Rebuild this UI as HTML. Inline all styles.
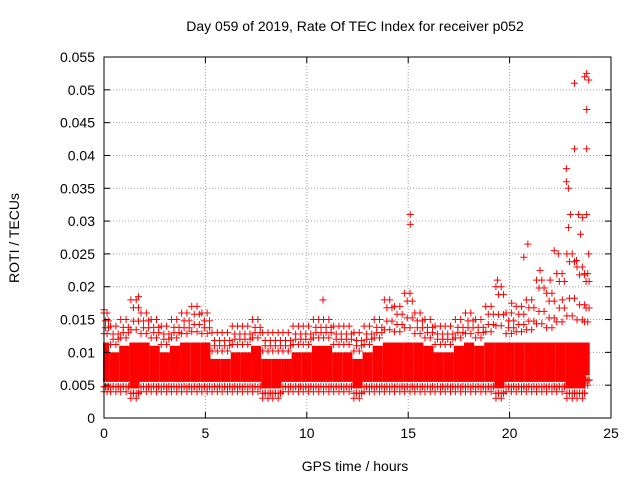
<!DOCTYPE html>
<html><head><meta charset="utf-8"><style>
body{margin:0;background:#fff;width:640px;height:480px;overflow:hidden;font-family:"Liberation Sans",sans-serif}
</style></head><body>
<svg id="chart" width="640" height="480" xmlns="http://www.w3.org/2000/svg" font-family="Liberation Sans, sans-serif" font-size="14">
<text x="355" y="31" text-anchor="middle" font-size="14">Day 059 of 2019, Rate Of TEC Index for receiver p052</text>
<text x="355" y="471" text-anchor="middle">GPS time / hours</text>
<text transform="translate(19,238) rotate(-90)" text-anchor="middle">ROTI / TECUs</text>
<g id="grid"></g><g id="marks"></g><g id="axes"></g>
</svg>
<script>
const xTicks=[0,5,10,15,20,25];
const yTicks=[0,0.005,0.01,0.015,0.02,0.025,0.03,0.035,0.04,0.045,0.05,0.055];
const yTickLabels=["0","0.005","0.01","0.015","0.02","0.025","0.03","0.035","0.04","0.045","0.05","0.055"];
const binHours=[0.1,0.5,1,1.5,2,2.5,3,3.5,4,4.5,5,5.5,6,6.5,7,7.5,8,8.5,9,9.5,10,10.5,11,11.5,12,12.5,13,13.5,14,14.5,15,15.5,16,16.5,17,17.5,18,18.5,19,19.5,20,20.5,21,21.5,22,22.5,23,23.5,23.8];
const binHigh=[0.016,0.014,0.015,0.018,0.016,0.015,0.014,0.015,0.016,0.017,0.016,0.013,0.013,0.014,0.014,0.015,0.013,0.013,0.013,0.014,0.014,0.015,0.015,0.014,0.014,0.013,0.014,0.015,0.018,0.017,0.019,0.016,0.015,0.014,0.014,0.015,0.016,0.015,0.017,0.020,0.016,0.017,0.018,0.021,0.019,0.022,0.025,0.023,0.022];
const binLow=[0.004,0.004,0.004,0.003,0.004,0.004,0.004,0.004,0.004,0.004,0.004,0.004,0.004,0.004,0.004,0.004,0.003,0.003,0.004,0.004,0.004,0.004,0.004,0.004,0.004,0.003,0.004,0.004,0.004,0.004,0.004,0.004,0.004,0.004,0.004,0.004,0.004,0.004,0.004,0.003,0.004,0.004,0.004,0.004,0.004,0.004,0.003,0.003,0.005];
const outX=[0,1.7,10.8,15.1,15.1,19.4,20.1,20.7,20.9,21.5,22.2,22.4,22.8,22.8,22.9,22.9,23.0,23.2,23.2,23.4,23.6,23.7,23.8,23.8,23.8,23.9,23.8,23.9,23.5,23.3,22.6,22.0];
const outY=[0.0165,0.0185,0.018,0.031,0.0295,0.021,0.0175,0.0245,0.0265,0.0225,0.0255,0.025,0.038,0.036,0.035,0.029,0.031,0.041,0.051,0.031,0.0305,0.052,0.0525,0.047,0.041,0.0515,0.031,0.025,0.028,0.024,0.018,0.021];
const X0=104,X1=611,Y0=418,Y1=57;
const sx=v=>X0+(X1-X0)*v/25, sy=v=>Y0-(Y0-Y1)*v/0.055;
const NS="http://www.w3.org/2000/svg";
function mk(t,a,p){const e=document.createElementNS(NS,t);for(const k in a)e.setAttribute(k,a[k]);p.appendChild(e);return e;}
const grid=document.getElementById('grid'),marks=document.getElementById('marks'),axes=document.getElementById('axes');
xTicks.forEach((t,i)=>{const x=sx(t);
 if(i>0&&i<xTicks.length-1){const g=mk('line',{x1:x,x2:x,y1:Y0,y2:Y1,stroke:'#a0a0a0','stroke-dasharray':'1,2'},grid);}
 mk('line',{x1:x,x2:x,y1:Y0,y2:Y0-6,stroke:'#000'},axes);mk('line',{x1:x,x2:x,y1:Y1,y2:Y1+6,stroke:'#000'},axes);
 const l=mk('text',{x:x,y:Y0+20,'text-anchor':'middle'},axes);l.textContent=t;
 });
yTicks.forEach((t,i)=>{const y=sy(t);
 if(i>0&&i<yTicks.length-1){const g=mk('line',{x1:X0,x2:X1,y1:y,y2:y,stroke:'#a0a0a0','stroke-dasharray':'1,2'},grid);}
 mk('line',{x1:X0,x2:X0+6,y1:y,y2:y,stroke:'#000'},axes);mk('line',{x1:X1,x2:X1-6,y1:y,y2:y,stroke:'#000'},axes);
 const l=mk('text',{x:X0-9,y:y+5,'text-anchor':'end'},axes);l.textContent=yTickLabels[i];
 });
const fr=mk('rect',{x:X0,y:Y1,width:X1-X0,height:Y0-Y1,fill:'none',stroke:'#000'},axes);

function plus(x,y){const p=mk('path',{d:`M${x-3.5},${y}h7M${x},${y-3.5}v7`,stroke:'#ff0000','stroke-width':1},marks);
 }
const bw=(sx(0.5)-sx(0))/2;
binHours.forEach((h,i)=>{
 const x=sx(h),lo=binLow[i],hi=binHigh[i];
 const cLo=lo+0.0015, cHi=Math.min(0.0115,Math.max(cLo,hi-0.004));
 const w=(i===0||i===binHours.length-1)?bw*0.6:bw;
 const r=mk('rect',{x:x-w,y:sy(cHi),width:w*2,height:sy(cLo)-sy(cHi),fill:'#ff0000'},marks);
 
 const offs=[-0.7,-0.2,0.35,0.8];
 offs.forEach((k,j)=>{
  const xx=x+k*w;
  plus(xx,sy(hi-(j%2)*0.0012));
  plus(xx,sy(lo+(j%2)*0.0008));
  plus(xx,sy(cHi+(hi-cHi)*(0.3+0.2*(j%2))));
  plus(xx,sy(cLo-(cLo-lo)*0.5));
 });
});
outX.forEach((h,i)=>plus(sx(h),sy(outY[i])));
</script>
</body></html>
